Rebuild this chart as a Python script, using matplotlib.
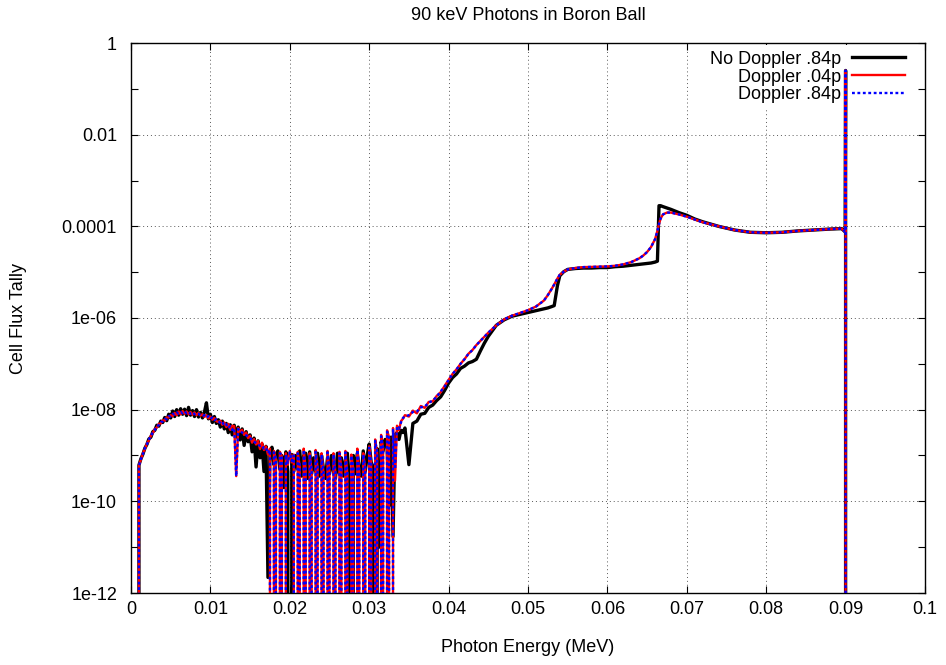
import numpy as np
import matplotlib
matplotlib.use("Agg")
import matplotlib.pyplot as plt
from matplotlib.ticker import FixedLocator, NullFormatter, NullLocator

plt.rcParams["font.family"] = ["Liberation Sans", "DejaVu Sans"]
plt.rcParams["font.size"] = 13
plt.rcParams["path.simplify"] = False

EMPTY = -99  # bin with no tally (drawn as a drop to the bottom)

# low energy bins, 0.00075 .. 0.0345 MeV every 0.00025 MeV
low_energy = np.linspace(0.00075, 0.0345, 136)

# log10(flux), one value per low energy bin
no_dop_84_low = [
    EMPTY, -9.21, -9.07, -8.97, -8.84, -8.76, -8.64, -8.60, -8.48,
    -8.45, -8.34, -8.36, -8.25, -8.28, -8.17, -8.24, -8.10,
    -8.18, -8.03, -8.15, -8.00, -8.12, -7.98, -8.10, -7.99,
    -8.13, -7.95, -8.12, -8.02, -8.15, -8.00, -8.16, -8.06,
    -8.18, -8.05, -7.85, -8.20, -8.10, -8.28, -8.15, -8.30,
    -8.22, -8.38, -8.25, -8.42, -8.30, -8.50, -8.33, -8.55,
    -8.34, -8.60, -8.38, -8.66, -8.42, -8.78, -8.48, -8.70,
    -8.55, -8.92, -8.62, -9.25, -8.68, -9.05, -8.75, -9.35,
    -8.80, -11.66, -8.95, -8.82, -9.20, -8.98, -8.90, -9.30,
    -9.00, -9.70, -8.92, -9.35, EMPTY, -8.98, -9.35, -9.00,
    -9.30, -8.90, -9.45, -9.00, -8.95, -9.50, -8.92, -9.40,
    -9.05, -9.35, -8.95, -9.45, -9.00, -9.30, -9.50, -9.05,
    -9.40, -9.00, -9.35, -9.50, -8.95, -9.40, -9.05, -9.45,
    -9.10, -8.95, -9.55, EMPTY, -9.00, -9.40, -8.95, -9.30,
    -9.45, -8.90, -9.35, -9.00, -8.75, -9.15, -9.25, EMPTY,
    -8.85, -11.00, -8.70, -8.90, -8.65, -8.80, -10.10, -8.60,
    -10.77, -8.55, -8.50, -8.65, -8.45, -8.50, -8.40,
]
dop_04_low = [
    EMPTY, -9.21, -9.09, -8.95, -8.86, -8.74, -8.67, -8.57, -8.51,
    -8.42, -8.39, -8.31, -8.30, -8.23, -8.24, -8.17, -8.17,
    -8.12, -8.14, -8.07, -8.12, -8.04, -8.10, -8.03, -8.09,
    -8.04, -8.10, -8.05, -8.11, -8.06, -8.12, -8.07, -8.13,
    -8.10, -8.16, -8.12, -8.19, -8.15, -8.22, -8.18, -8.25,
    -8.27, -8.24, -8.33, -8.28, -8.38, -8.31, -8.44, -8.35,
    -8.36, -9.45, -8.40, -8.48, -8.44, -8.55, -8.50, -8.62,
    -8.57, -8.72, -8.64, -8.76, -8.68, -8.86, -8.72, -8.88,
    -8.80, -8.98, -8.85, EMPTY, -8.90, -9.10, EMPTY, -8.92,
    -9.02, EMPTY, -8.95, -9.20, -8.90, -9.15, -8.98, EMPTY,
    -8.92, -9.25, EMPTY, -8.85, -9.30, EMPTY, -8.95, -9.35,
    EMPTY, -8.88, -9.28, EMPTY, -8.95, -9.40, EMPTY, -8.90,
    -9.35, EMPTY, -8.95, -9.40, EMPTY, -8.92, -9.30, EMPTY,
    -8.90, -9.42, EMPTY, -8.98, -9.30, EMPTY, -8.85, -9.35,
    EMPTY, -8.95, -9.30, EMPTY, -8.80, -9.20, EMPTY, -8.65,
    -8.95, EMPTY, -8.55, -8.85, EMPTY, -8.45, -8.60, EMPTY,
    -8.40, -9.55, -8.35, -8.45, -8.25, -8.20, -8.12,
]
dop_84_low = [
    EMPTY, -9.22, -9.08, -8.97, -8.84, -8.76, -8.65, -8.59, -8.49,
    -8.44, -8.36, -8.34, -8.27, -8.26, -8.20, -8.21, -8.14,
    -8.15, -8.09, -8.11, -8.06, -8.09, -8.05, -8.08, -8.04,
    -8.08, -8.05, -8.09, -8.06, -8.10, -8.08, -8.09, -8.12,
    -8.14, -8.12, -8.17, -8.14, -8.20, -8.17, -8.23, -8.21,
    -8.24, -8.30, -8.27, -8.35, -8.32, -8.40, -8.36, -8.44,
    -8.40, -9.45, -8.42, -8.47, -8.50, -8.53, -8.56, -8.59,
    -8.62, -8.67, -8.70, -8.73, -8.76, -8.79, -8.78, -8.85,
    -8.83, -8.95, -8.88, EMPTY, -8.93, -9.06, EMPTY, -8.95,
    -8.98, EMPTY, -8.98, -9.16, -8.93, -9.12, -9.00, EMPTY,
    -8.95, -9.22, EMPTY, -8.88, -9.26, EMPTY, -8.98, -9.30,
    EMPTY, -8.92, -9.24, EMPTY, -8.98, -9.35, EMPTY, -8.93,
    -9.30, EMPTY, -8.98, -9.36, EMPTY, -8.95, -9.26, EMPTY,
    -8.93, -9.38, EMPTY, -9.00, -9.26, EMPTY, -8.88, -9.30,
    EMPTY, -8.98, -9.26, EMPTY, -8.83, -9.16, EMPTY, -8.68,
    -8.92, EMPTY, -8.58, -8.82, EMPTY, -8.48, -8.62, EMPTY,
    -8.44, -9.30, -8.38, -8.42, -8.28, -8.18, -8.15,
]

# higher energy part, uneven bins around the edges and the 90 keV line
tail_energy = [
    0.035, 0.0355, 0.036, 0.0365, 0.037, 0.0375, 0.038, 0.0385, 0.039, 0.0395,
    0.040, 0.0405, 0.041, 0.0415, 0.042, 0.0425, 0.043, 0.0435, 0.044, 0.0445,
    0.045, 0.046, 0.047, 0.048, 0.049, 0.050, 0.051, 0.052, 0.0525, 0.053,
    0.0533, 0.0537, 0.054, 0.0545, 0.055, 0.056, 0.057, 0.058, 0.059, 0.060,
    0.061, 0.062, 0.063, 0.064, 0.0645, 0.065, 0.0655, 0.066, 0.0663, 0.0665,
    0.0667, 0.067, 0.0675, 0.068, 0.069, 0.070, 0.071, 0.072, 0.074, 0.076,
    0.078, 0.080, 0.082, 0.084, 0.086, 0.088, 0.0895, 0.08995, 0.0900, 0.09005,
]
no_dop_84_tail = [
    -9.20, -8.30, -8.25, -8.10, -8.08, -7.95, -7.90, -7.80, -7.72, -7.58,
    -7.42, -7.30, -7.22, -7.10, -7.05, -6.98, -6.95, -6.90, -6.72, -6.55,
    -6.40, -6.16, -6.04, -5.96, -5.92, -5.88, -5.84, -5.80, -5.78, -5.75,
    -5.73, -5.30, -5.08, -4.99, -4.94, -4.92, -4.91, -4.91, -4.90, -4.90,
    -4.88, -4.87, -4.85, -4.83, -4.82, -4.81, -4.80, -4.78, -4.76, -3.55,
    -3.55, -3.57, -3.60, -3.63, -3.70, -3.76, -3.84, -3.90, -4.00, -4.08,
    -4.13, -4.14, -4.13, -4.10, -4.08, -4.06, -4.05, -4.12, -0.60, EMPTY,
]
dop_04_tail = [
    -8.15, -8.02, -8.08, -7.92, -7.96, -7.83, -7.82, -7.70, -7.62, -7.48,
    -7.35, -7.22, -7.12, -7.00, -6.90, -6.78, -6.70, -6.59, -6.50, -6.41,
    -6.32, -6.16, -6.03, -5.95, -5.89, -5.83, -5.75, -5.62, -5.50, -5.36,
    -5.27, -5.14, -5.06, -4.99, -4.94, -4.91, -4.89, -4.885, -4.88, -4.875,
    -4.86, -4.83, -4.78, -4.70, -4.64, -4.56, -4.45, -4.28, -4.10, -3.95,
    -3.83, -3.74, -3.70, -3.70, -3.74, -3.79, -3.85, -3.91, -4.00, -4.08,
    -4.13, -4.14, -4.13, -4.10, -4.08, -4.06, -4.05, -4.12, -0.60, EMPTY,
]
# the .84p doppler run only differs in the noisy start of the tail
dop_84_tail = [
    -8.12, -8.05, -8.04, -7.95, -7.93, -7.85, -7.80, -7.72, -7.60, -7.50,
] + dop_04_tail[10:]

labels = ["No Doppler .84p", "Doppler .04p", "Doppler .84p"]
x_ticks = [0, 0.01, 0.02, 0.03, 0.04, 0.05, 0.06, 0.07, 0.08, 0.09, 0.1]
x_tick_labels = ["0", "0.01", "0.02", "0.03", "0.04", "0.05", "0.06",
                 "0.07", "0.08", "0.09", "0.1"]
y_ticks = [1, 1e-2, 1e-4, 1e-6, 1e-8, 1e-10, 1e-12]
y_tick_labels = ["1", "0.01", "0.0001", "1e-06", "1e-08", "1e-10", "1e-12"]


def to_flux(low, tail):
    exps = np.array(list(low) + list(tail), dtype=float)
    return np.where(exps <= EMPTY, 0.0, 10.0 ** exps)


energy = np.concatenate([low_energy, tail_energy])

fig = plt.figure(figsize=(9.46, 6.65), dpi=100)
ax = fig.add_axes([131 / 946, 1 - 593 / 665, 794 / 946, 550 / 665])

ax.plot(energy, to_flux(no_dop_84_low, no_dop_84_tail), color="black",
        lw=2.4, label=labels[0], zorder=2)
ax.plot(energy, to_flux(dop_04_low, dop_04_tail), color="#ff0000",
        lw=1.7, label=labels[1], zorder=3)
ax.plot(energy, to_flux(dop_84_low, dop_84_tail), color="#0000ff",
        lw=1.7, linestyle=(0, (1.2, 1.1)), label=labels[2], zorder=4)

ax.set_yscale("log")
ax.set_xlim(0, 0.1)
ax.set_ylim(1e-12, 1)
ax.xaxis.set_major_locator(FixedLocator(x_ticks))
ax.set_xticklabels(x_tick_labels)
ax.xaxis.set_minor_locator(NullLocator())
ax.yaxis.set_major_locator(FixedLocator(y_ticks))
ax.set_yticklabels(y_tick_labels)
ax.yaxis.set_minor_locator(FixedLocator([1e-1, 1e-3, 1e-5, 1e-7, 1e-9, 1e-11]))
ax.yaxis.set_minor_formatter(NullFormatter())

ax.tick_params(which="both", direction="in", top=True, right=True,
               length=5, width=0.8)
ax.tick_params(axis="x", pad=6)
ax.tick_params(axis="y", pad=10)
for s in ax.spines.values():
    s.set_linewidth(1.0)

ax.grid(True, which="major", color="0.35", linestyle=(0, (1, 3)), linewidth=0.7)
ax.set_axisbelow(True)

fig.text(528 / 946, 1 - 15 / 665, "90 keV Photons in Boron Ball",
         ha="center", va="center")
ax.set_xlabel("Photon Energy (MeV)")
ax.set_ylabel("Cell Flux Tally")
ax.xaxis.set_label_coords(0.5, -55 / 550)
ax.xaxis.label.set_va("center")
ax.yaxis.set_label_coords(-113 / 794, 0.5)
ax.yaxis.label.set_va("center")

leg = ax.legend(loc="upper right", bbox_to_anchor=(0.982, 0.996),
                markerfirst=False, frameon=True, fancybox=False,
                edgecolor="none", facecolor="white", framealpha=1,
                borderpad=0.3, borderaxespad=0, handlelength=2.95,
                handletextpad=0.6, labelspacing=0.05)
leg.set_zorder(1.5)

fig.savefig("out.png", dpi=100)
